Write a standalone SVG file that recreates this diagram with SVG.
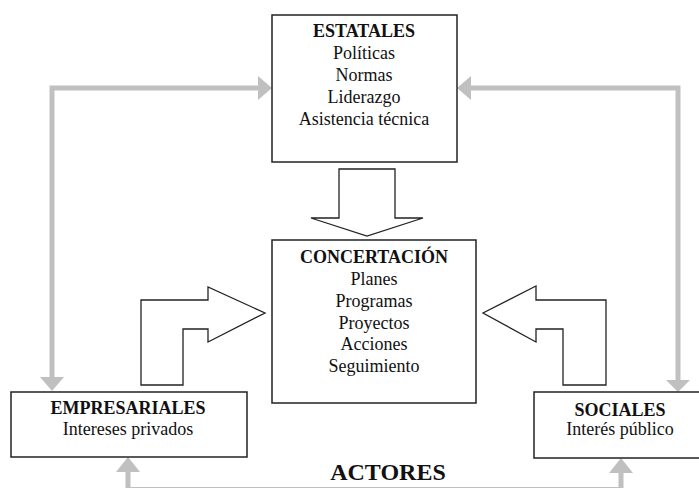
<svg xmlns="http://www.w3.org/2000/svg" width="699" height="488" viewBox="0 0 699 488">
<defs>
<style>
.box{fill:#fff;stroke:#222;stroke-width:1.5}
.blk{fill:#fff;stroke:#222;stroke-width:1.3;stroke-linejoin:miter}
.con{fill:none;stroke:#c0c0c0;stroke-width:5}
.head{fill:#c0c0c0}
text{font-family:"Liberation Serif","Times New Roman",serif;font-size:18px;fill:#111;text-anchor:middle}
.b{font-weight:bold}
.big{font-size:24px;font-weight:bold}
</style>
</defs>
<rect width="699" height="488" fill="#fff"/>
<g id="connectors">
<polyline class="con" points="258,88 52,88 52,378"/>
<polygon class="head" points="272,88 258,76 258,100"/>
<polygon class="head" points="52,391 40,377 64,377"/>
<polyline class="con" points="470,88 678,88 678,380"/>
<polygon class="head" points="457,88 471,76 471,100"/>
<polygon class="head" points="678,392 666,380 690,380"/>
<polyline class="con" points="128,472 128,489.5 621,489.5 621,472"/>
<polygon class="head" points="128,457 116,472 140,472"/>
<polygon class="head" points="621,458 609,473 633,473"/>
<polygon class="blk" points="339,169 395,169 395,218 423,218 367,236 311,218 339,218"/>
<polygon class="blk" points="141,385 141,300 208,300 208,287 265,313 208,342 208,329 183,329 183,385"/>
<polygon class="blk" points="606,385 606,300 536,300 536,286 483,313 536,342 536,329 563,329 563,385"/>
</g>
<g id="estatales">
<rect class="box" x="272" y="15" width="185" height="147"/>
<text class="b" x="364" y="37">ESTATALES</text>
<text x="364" y="59">Políticas</text>
<text x="364" y="81">Normas</text>
<text x="364" y="103">Liderazgo</text>
<text x="364" y="125">Asistencia técnica</text>
</g>
<g id="concertacion">
<rect class="box" x="272" y="240" width="204" height="163"/>
<text class="b" x="374" y="263">CONCERTACIÓN</text>
<text x="374" y="285">Planes</text>
<text x="374" y="307">Programas</text>
<text x="374" y="329">Proyectos</text>
<text x="374" y="350">Acciones</text>
<text x="374" y="372">Seguimiento</text>
</g>
<g id="empresariales">
<rect class="box" x="11" y="392" width="236" height="65"/>
<text class="b" x="128" y="414">EMPRESARIALES</text>
<text x="128" y="435">Intereses privados</text>
</g>
<g id="sociales">
<rect class="box" x="534" y="392" width="170" height="66"/>
<text class="b" x="620" y="416">SOCIALES</text>
<text x="620" y="435">Interés público</text>
</g>
<g id="actores">
<text class="big" x="388" y="480">ACTORES</text>
</g>
</svg>
